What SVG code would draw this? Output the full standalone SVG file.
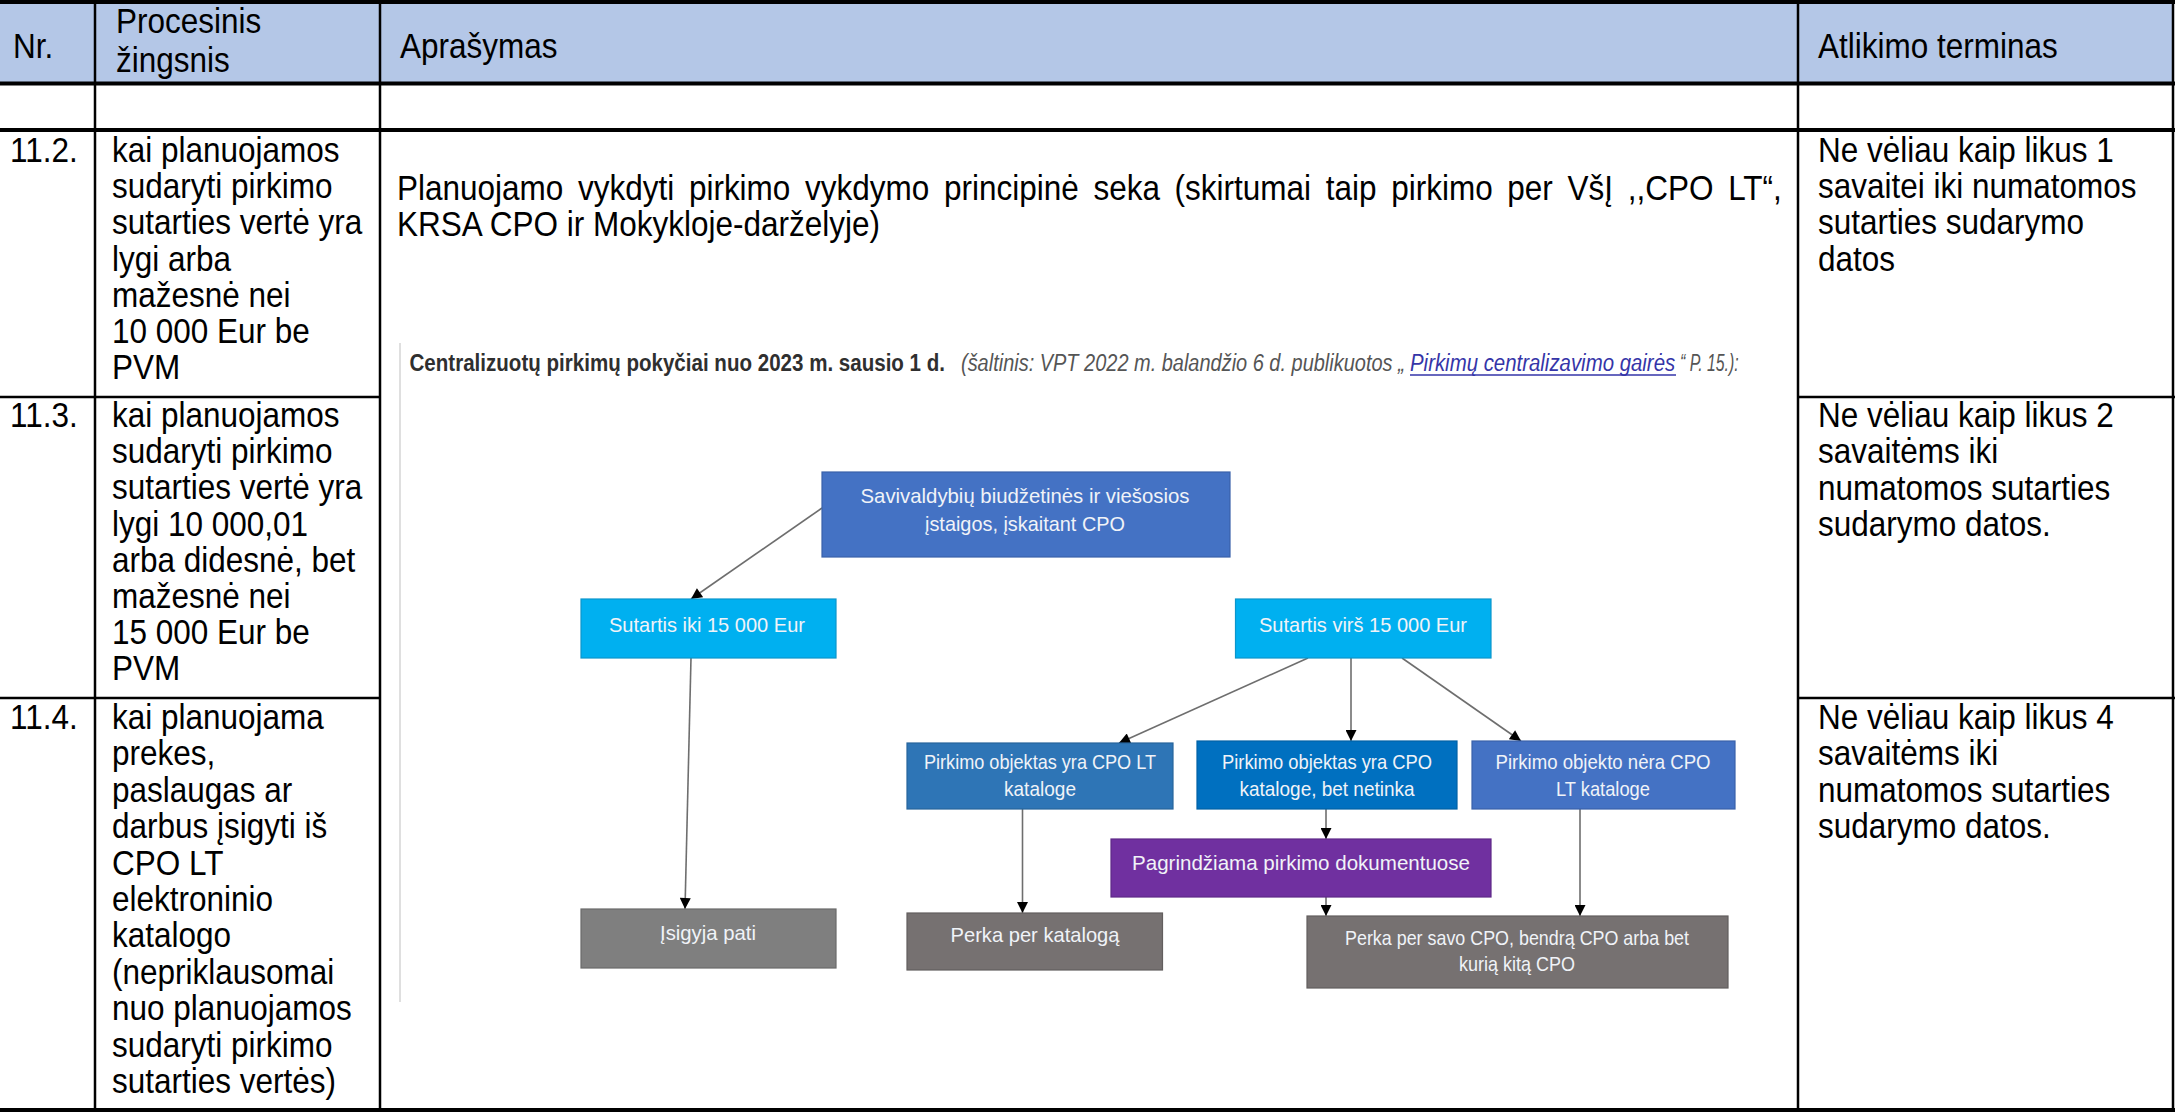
<svg xmlns="http://www.w3.org/2000/svg" width="2175" height="1116" viewBox="0 0 2175 1116">
<style>
.t{font-family:"Liberation Sans",Arial,sans-serif;font-size:35px;fill:#000}
.nl{font-family:"Liberation Sans",Arial,sans-serif;font-size:21px;fill:#F0F3F8;text-anchor:middle}
.cap{font-family:"Liberation Sans",Arial,sans-serif;font-size:24px}
.grid{stroke:#000;stroke-width:2.5;fill:none}
.thick{stroke:#000;stroke-width:4;fill:none}
.conn{stroke:#6e6e6e;stroke-width:1.6;fill:none;marker-end:url(#ah)}
.box{stroke-width:1.2}
</style>
<defs>
<marker id="ah" viewBox="0 0 10 10" refX="10" refY="5" markerWidth="12" markerHeight="11" markerUnits="userSpaceOnUse" orient="auto">
<path d="M0,0 L10,5 L0,10 z" fill="#000"/>
</marker>
</defs>
<rect width="2175" height="1116" fill="#fff"/>

<g id="table">
<rect x="0" y="2" width="2173" height="81" fill="#B4C7E7"/>
<line class="thick" x1="0" y1="2" x2="2175" y2="2"/>
<line class="thick" x1="0" y1="83.5" x2="2175" y2="83.5"/>
<line class="thick" x1="0" y1="130" x2="2175" y2="130"/>
<line class="grid" x1="0" y1="397" x2="380" y2="397"/>
<line class="grid" x1="1798" y1="397" x2="2175" y2="397"/>
<line class="grid" x1="0" y1="698" x2="380" y2="698"/>
<line class="grid" x1="1798" y1="698" x2="2175" y2="698"/>
<line class="thick" x1="0" y1="1110" x2="2175" y2="1110"/>
<line class="grid" x1="95" y1="0" x2="95" y2="1112"/>
<line class="grid" x1="380" y1="0" x2="380" y2="1112"/>
<line class="grid" x1="1798" y1="0" x2="1798" y2="1112"/>
<line class="grid" x1="2173" y1="0" x2="2173" y2="1112"/>
</g>

<g id="header">
<text class="t" transform="translate(13 58) scale(0.9 1)">Nr.</text>
<text class="t" transform="translate(116 33) scale(0.9 1)">Procesinis</text>
<text class="t" transform="translate(116 72) scale(0.9 1)">žingsnis</text>
<text class="t" transform="translate(400 58) scale(0.9 1)">Aprašymas</text>
<text class="t" transform="translate(1818 58) scale(0.9 1)">Atlikimo terminas</text>
</g>

<g id="row-11-2">
<text class="t" transform="translate(10 161.7) scale(0.9 1)">11.2.</text>
<text class="t" transform="translate(112 161.7) scale(0.9 1)"><tspan x="0" y="0">kai planuojamos</tspan><tspan x="0" y="36.3">sudaryti pirkimo</tspan><tspan x="0" y="72.6">sutarties vertė yra</tspan><tspan x="0" y="108.9">lygi arba</tspan><tspan x="0" y="145.2">mažesnė nei</tspan><tspan x="0" y="181.5">10 000 Eur be</tspan><tspan x="0" y="217.8">PVM</tspan></text>
<text class="t" transform="translate(1818 161.7) scale(0.9 1)"><tspan x="0" y="0">Ne vėliau kaip likus 1</tspan><tspan x="0" y="36.3">savaitei iki numatomos</tspan><tspan x="0" y="72.6">sutarties sudarymo</tspan><tspan x="0" y="108.9">datos</tspan></text>
</g>

<g id="row-11-3">
<text class="t" transform="translate(10 427) scale(0.9 1)">11.3.</text>
<text class="t" transform="translate(112 427) scale(0.9 1)"><tspan x="0" y="0">kai planuojamos</tspan><tspan x="0" y="36.2">sudaryti pirkimo</tspan><tspan x="0" y="72.4">sutarties vertė yra</tspan><tspan x="0" y="108.6">lygi 10 000,01</tspan><tspan x="0" y="144.8">arba didesnė, bet</tspan><tspan x="0" y="181">mažesnė nei</tspan><tspan x="0" y="217.2">15 000 Eur be</tspan><tspan x="0" y="253.4">PVM</tspan></text>
<text class="t" transform="translate(1818 427) scale(0.9 1)"><tspan x="0" y="0">Ne vėliau kaip likus 2</tspan><tspan x="0" y="36.3">savaitėms iki</tspan><tspan x="0" y="72.6">numatomos sutarties</tspan><tspan x="0" y="108.9">sudarymo datos.</tspan></text>
</g>

<g id="row-11-4">
<text class="t" transform="translate(10 729) scale(0.9 1)">11.4.</text>
<text class="t" transform="translate(112 729) scale(0.9 1)"><tspan x="0" y="0">kai planuojama</tspan><tspan x="0" y="36.4">prekes,</tspan><tspan x="0" y="72.8">paslaugas ar</tspan><tspan x="0" y="109.2">darbus įsigyti iš</tspan><tspan x="0" y="145.6">CPO LT</tspan><tspan x="0" y="182">elektroninio</tspan><tspan x="0" y="218.4">katalogo</tspan><tspan x="0" y="254.8">(nepriklausomai</tspan><tspan x="0" y="291.2">nuo planuojamos</tspan><tspan x="0" y="327.6">sudaryti pirkimo</tspan><tspan x="0" y="364">sutarties vertės)</tspan></text>
<text class="t" transform="translate(1818 729) scale(0.9 1)"><tspan x="0" y="0">Ne vėliau kaip likus 4</tspan><tspan x="0" y="36.3">savaitėms iki</tspan><tspan x="0" y="72.6">numatomos sutarties</tspan><tspan x="0" y="108.9">sudarymo datos.</tspan></text>
</g>

<g id="description">
<text class="t" transform="translate(397 200) scale(0.9 1)" word-spacing="6.6">Planuojamo vykdyti pirkimo vykdymo principinė seka (skirtumai taip pirkimo per VšĮ ,,CPO LT“,</text>
<text class="t" transform="translate(397 236) scale(0.9 1)">KRSA CPO ir Mokykloje-darželyje)</text>
</g>

<g id="figure-frame">
<line x1="400" y1="343" x2="400" y2="1002" stroke="#D4D4D4" stroke-width="1.5"/>
</g>

<g id="caption">
<text class="cap" transform="translate(409.5 371) scale(0.857 1)" font-weight="bold" fill="#2F2F2F">Centralizuotų pirkimų pokyčiai nuo 2023 m. sausio 1 d.</text>
<text class="cap" transform="translate(961 371) scale(0.832 1)" font-style="italic" fill="#555">(šaltinis: VPT 2022 m. balandžio 6 d. publikuotos „</text>
<text class="cap" transform="translate(1410 371) scale(0.85 1)" font-style="italic" fill="#3535A8">Pirkimų centralizavimo gairės</text>
<line x1="1410" y1="375" x2="1676" y2="375" stroke="#3535A8" stroke-width="1.5"/>
<text class="cap" transform="translate(1680 371) scale(0.66 1)" font-style="italic" fill="#555">“ P. 15.):</text>
</g>

<g id="connectors">
<line class="conn" x1="822" y1="508" x2="691" y2="599"/>
<line class="conn" x1="691" y1="658" x2="685" y2="909"/>
<line class="conn" x1="1308" y1="658" x2="1119" y2="743"/>
<line class="conn" x1="1351" y1="658" x2="1351" y2="741"/>
<line class="conn" x1="1402" y1="658" x2="1521" y2="741"/>
<line class="conn" x1="1022.5" y1="809" x2="1022.5" y2="913"/>
<line class="conn" x1="1326" y1="809" x2="1326" y2="839"/>
<line class="conn" x1="1326" y1="897" x2="1326" y2="916"/>
<line class="conn" x1="1580" y1="809" x2="1580" y2="916"/>
</g>

<g id="node-top">
<rect class="box" x="822" y="472" width="408" height="85" fill="#4472C4" stroke="#3A62AA"/>
<text class="nl" x="1025" y="503" textLength="329" lengthAdjust="spacingAndGlyphs">Savivaldybių biudžetinės ir viešosios</text>
<text class="nl" x="1025" y="531" textLength="200" lengthAdjust="spacingAndGlyphs">įstaigos, įskaitant CPO</text>
</g>
<g id="node-iki">
<rect class="box" x="581" y="599" width="255" height="59" fill="#00B0F0" stroke="#0A96CC"/>
<text class="nl" x="707" y="632" textLength="196" lengthAdjust="spacingAndGlyphs">Sutartis iki 15 000 Eur</text>
</g>
<g id="node-virs">
<rect class="box" x="1235.5" y="599" width="255.5" height="59" fill="#00B0F0" stroke="#0A96CC"/>
<text class="nl" x="1363" y="632" textLength="208" lengthAdjust="spacingAndGlyphs">Sutartis virš 15 000 Eur</text>
</g>
<g id="node-cpo-lt">
<rect class="box" x="907" y="743" width="266" height="66" fill="#2E75B6" stroke="#27649C"/>
<text class="nl" x="1040" y="769" textLength="232" lengthAdjust="spacingAndGlyphs">Pirkimo objektas yra CPO LT</text>
<text class="nl" x="1040" y="796" textLength="72" lengthAdjust="spacingAndGlyphs">kataloge</text>
</g>
<g id="node-netinka">
<rect class="box" x="1197" y="741" width="260" height="68" fill="#0070C0" stroke="#0061A6"/>
<text class="nl" x="1327" y="769" textLength="210" lengthAdjust="spacingAndGlyphs">Pirkimo objektas yra CPO</text>
<text class="nl" x="1327" y="796" textLength="175" lengthAdjust="spacingAndGlyphs">kataloge, bet netinka</text>
</g>
<g id="node-nera">
<rect class="box" x="1472" y="741" width="263" height="68" fill="#4472C4" stroke="#3A62AA"/>
<text class="nl" x="1603" y="769" textLength="215" lengthAdjust="spacingAndGlyphs">Pirkimo objekto nėra CPO</text>
<text class="nl" x="1603" y="796" textLength="94" lengthAdjust="spacingAndGlyphs">LT kataloge</text>
</g>
<g id="node-pagrindziama">
<rect class="box" x="1111" y="839" width="380" height="58" fill="#7030A0" stroke="#5E2888"/>
<text class="nl" x="1301" y="870" textLength="338" lengthAdjust="spacingAndGlyphs">Pagrindžiama pirkimo dokumentuose</text>
</g>
<g id="node-isigyja">
<rect class="box" x="581" y="909" width="255" height="59" fill="#7F7F7F" stroke="#6A6A6A"/>
<text class="nl" x="708" y="940" textLength="96" lengthAdjust="spacingAndGlyphs">Įsigyja pati</text>
</g>
<g id="node-katalogas">
<rect class="box" x="907" y="913" width="255.5" height="57" fill="#767171" stroke="#625E5E"/>
<text class="nl" x="1035" y="942" textLength="169" lengthAdjust="spacingAndGlyphs">Perka per katalogą</text>
</g>
<g id="node-savo-cpo">
<rect class="box" x="1307" y="916" width="421" height="72" fill="#767171" stroke="#625E5E"/>
<text class="nl" x="1517" y="945" textLength="344" lengthAdjust="spacingAndGlyphs">Perka per savo CPO, bendrą CPO arba bet</text>
<text class="nl" x="1517" y="971" textLength="116" lengthAdjust="spacingAndGlyphs">kurią kitą CPO</text>
</g>
</svg>
